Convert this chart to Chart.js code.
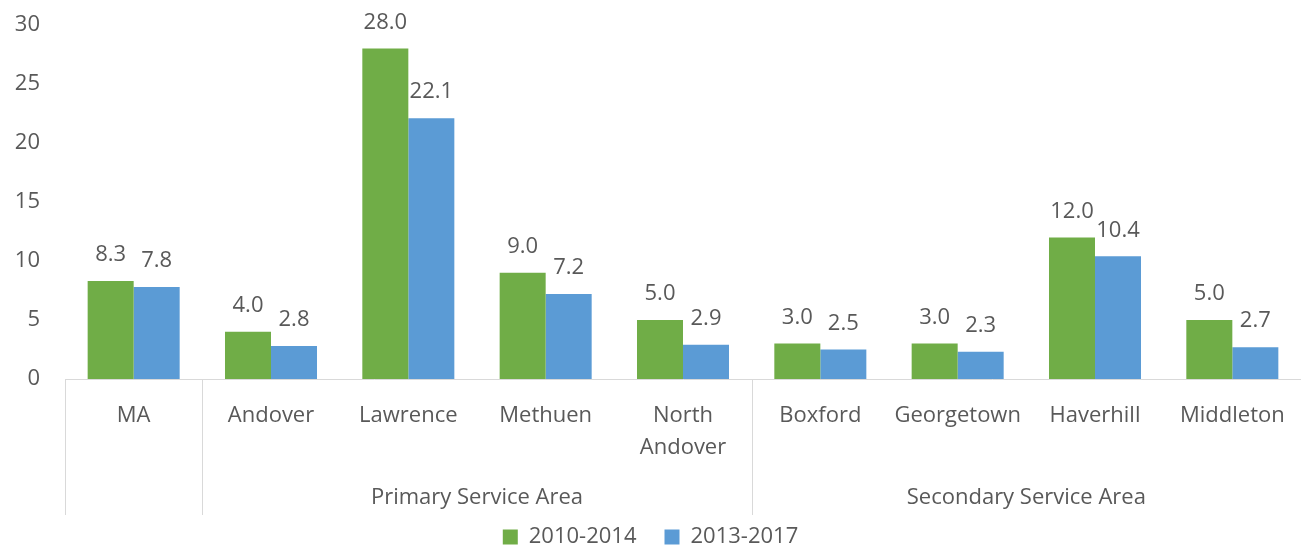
<!DOCTYPE html>
<html>
<head>
<meta charset="utf-8">
<script src="https://cdn.jsdelivr.net/npm/chart.js@4.4.1/dist/chart.umd.min.js"></script>
<style>
  html, body { margin: 0; padding: 0; background: #fff; }
  #wrap { width: 1301px; height: 550px; }
</style>
</head>
<body>
<div id="wrap"><canvas id="rateChart"></canvas></div>
<script>
// Chart data
const towns = [['MA'], ['Andover'], ['Lawrence'], ['Methuen'], ['North', 'Andover'],
    ['Boxford'], ['Georgetown'], ['Haverhill'], ['Middleton']];
const rates2010 = [8.3, 4.0, 28.0, 9.0, 5.0, 3.0, 3.0, 12.0, 5.0];
const rates2013 = [7.8, 2.8, 22.1, 7.2, 2.9, 2.5, 2.3, 10.4, 2.7];
const seriesNames = ['2010-2014', '2013-2017'];
// groups: label, first index, last index
const groupNames = ['', 'Primary Service Area', 'Secondary Service Area'];
const groupStart = [0, 1, 5];
const groupEnd = [0, 4, 8];

const textColor = '#595959';
const lineColor = '#D9D9D9';
const fontFamily = '"Open Sans", sans-serif';
const fontSize = 22;

// Draws value labels above bars
const valueLabels = {
    id: 'valueLabels',
    afterDatasetsDraw(chart) {
        const ctx = chart.ctx;
        ctx.save();
        ctx.fillStyle = textColor;
        ctx.font = fontSize + 'px ' + fontFamily;
        ctx.textAlign = 'center';
        ctx.textBaseline = 'middle';
        chart.data.datasets.forEach(function(ds, i) {
            chart.getDatasetMeta(i).data.forEach(function(bar, j) {
                ctx.fillText(ds.data[j].toFixed(1), bar.x, bar.y - 26);
            });
        });
        ctx.restore();
    }
};

// Draws group separators and group labels under the x axis
const groupAxis = {
    id: 'groupAxis',
    afterDraw(chart) {
        const ctx = chart.ctx;
        const x = chart.scales.x;
        const top = chart.chartArea.bottom;
        const bottom = top + 136;
        const half = (x.getPixelForValue(1) - x.getPixelForValue(0)) / 2;
        ctx.save();
        ctx.strokeStyle = lineColor;
        ctx.lineWidth = 1;
        ctx.fillStyle = textColor;
        ctx.font = fontSize + 'px ' + fontFamily;
        ctx.textAlign = 'center';
        ctx.textBaseline = 'middle';
        for (let g = 0; g < groupNames.length; g++) {
            const left = x.getPixelForValue(groupStart[g]) - half;
            const right = x.getPixelForValue(groupEnd[g]) + half;
            [left, right].forEach(function(px) {
                const p = Math.round(px) + 0.5;
                ctx.beginPath();
                ctx.moveTo(p, top);
                ctx.lineTo(p, bottom);
                ctx.stroke();
            });
            if (groupNames[g]) {
                ctx.fillText(groupNames[g], (left + right) / 2, top + 119);
            }
        }
        ctx.restore();
    }
};

document.addEventListener('DOMContentLoaded', function() {
    const canvas = document.getElementById('rateChart');
    const ctx = canvas.getContext('2d');

    new Chart(ctx, {
        type: 'bar',
        data: {
            labels: towns,
            datasets: [
                {
                    label: seriesNames[0],
                    backgroundColor: '#70AD47',
                    data: rates2010
                },
                {
                    label: seriesNames[1],
                    backgroundColor: '#5B9BD5',
                    data: rates2013
                }
            ]
        },
        options: {
            responsive: true,
            maintainAspectRatio: false,
            animation: false,
            datasets: {
                bar: {
                    categoryPercentage: 0.67,
                    barPercentage: 1.0
                }
            },
            layout: {
                padding: { top: 25, right: 0, left: 0, bottom: -8 }
            },
            plugins: {
                legend: {
                    position: 'bottom',
                    labels: {
                        color: textColor,
                        font: { size: fontSize, family: fontFamily },
                        boxWidth: 15,
                        boxHeight: 15,
                        padding: 28
                    }
                },
                tooltip: { enabled: false }
            },
            scales: {
                x: {
                    grid: { display: false },
                    border: { display: true, color: lineColor, width: 1 },
                    ticks: {
                        color: textColor,
                        font: { size: fontSize, family: fontFamily, lineHeight: 1.4545 },
                        maxRotation: 0,
                        autoSkip: false,
                        padding: 13
                    },
                    afterFit: function(scale) {
                        scale.height = 119;
                        scale.paddingLeft = 0;
                        scale.paddingRight = 0;
                    }
                },
                y: {
                    min: 0,
                    max: 30,
                    grid: { display: false, drawTicks: false },
                    border: { display: false },
                    ticks: {
                        stepSize: 5,
                        color: textColor,
                        font: { size: fontSize, family: fontFamily },
                        padding: 25
                    },
                    afterFit: function(scale) {
                        scale.width = 65;
                        scale.paddingTop = 0;
                        scale.paddingBottom = 0;
                    }
                }
            }
        },
        plugins: [valueLabels, groupAxis]
    });
});
</script>
</body>
</html>
